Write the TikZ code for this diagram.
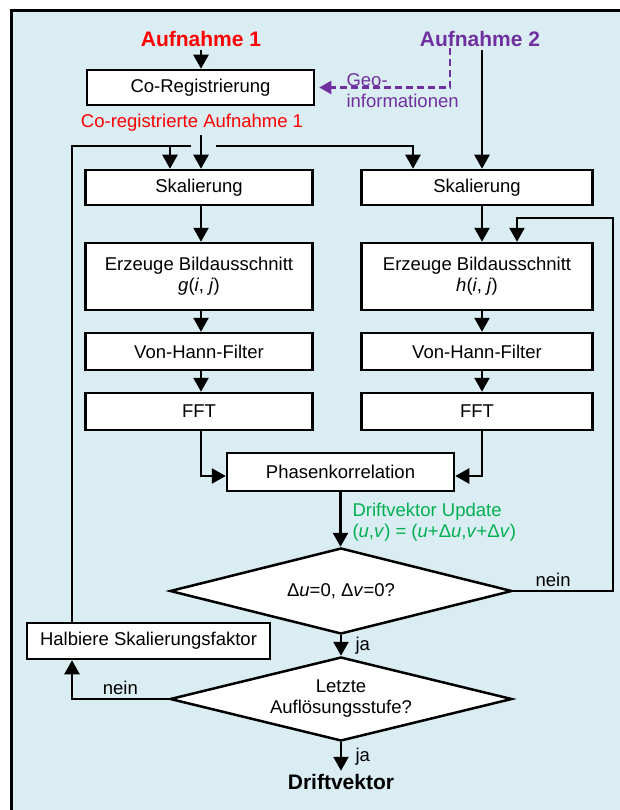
\documentclass[tikz,border=0pt]{standalone}
\usepackage{fontspec}
\setmainfont{Liberation Sans}
\usetikzlibrary{shapes.geometric,arrows.meta}
\definecolor{bg}{RGB}{218,237,243}
\definecolor{aufred}{RGB}{255,0,0}
\definecolor{aufpurple}{RGB}{112,48,160}
\definecolor{updgreen}{RGB}{0,176,80}

\begin{document}
\begin{tikzpicture}[x=1pt,y=-1pt,
	font=\fontsize{18.5}{21}\selectfont,
	title/.style={font=\fontsize{21}{24}\selectfont\bfseries},
	box/.style={draw,fill=white,line width=2.5pt,minimum width=227pt,inner sep=2pt,align=center},
	decision/.style={draw,fill=white,diamond,aspect=4,line width=2.5pt,minimum width=342pt,inner sep=0pt,align=center},
	conn/.style={line width=2.5pt},
	arr/.style={line width=2.5pt,-{Triangle[length=14pt,width=15pt]}},
	geoarr/.style={aufpurple,line width=2.2pt,dash pattern=on 7pt off 4pt,-{Triangle[length=12pt,width=13pt]},shorten >=4pt}]
	\useasboundingbox (0,0) rectangle (619,810);
	\fill[white] (-5,-5) rectangle (630,820);
	\fill[bg] (11,11) rectangle (630,820);
	\draw[line width=3pt] (11,820) -- (11,11) -- (630,11);
	\node[title,text=aufred] (auf_1) at (201,39) {Aufnahme 1};
	\node[title,text=aufpurple] (auf_2) at (480,39) {Aufnahme 2};
	\node[box,minimum height=35pt] (coreg) at (200.5,87.5) {Co-Registrierung};
	\node[text=aufred] (coreg_lbl) at (192,123) {Co-registrierte Aufnahme 1};
	\node[text=aufpurple,align=left,anchor=west] (geo_lbl) at (343,90.5) {Geo-\\informationen};
	\node[box,minimum height=35pt] (skal_l) at (199,187.5) {Skalierung};
	\node[box,minimum width=231pt,minimum height=35pt] (skal_r) at (477,187.5) {Skalierung};
	\node[box,minimum height=67pt] (erz_l) at (199,276.5) {Erzeuge Bildausschnitt\\\textit{g}(\textit{i}, \textit{j})};
	\node[box,minimum width=231pt,minimum height=67pt] (erz_r) at (477,276.5) {Erzeuge Bildausschnitt\\\textit{h}(\textit{i}, \textit{j})};
	\node[box,minimum height=37pt] (hann_l) at (199,351.5) {Von-Hann-Filter};
	\node[box,minimum width=231pt,minimum height=37pt] (hann_r) at (477,351.5) {Von-Hann-Filter};
	\node[box,minimum height=37pt] (fft_l) at (199,411.5) {FFT};
	\node[box,minimum width=231pt,minimum height=37pt] (fft_r) at (477,411.5) {FFT};
	\node[box,minimum height=38pt] (phasen) at (340.5,472) {Phasenkorrelation};
	\node[text=updgreen,align=left,anchor=west] (upd_lbl) at (349,522) {Driftvektor Update\\(\textit{u},\textit{v}) = (\textit{u}+Δ\textit{u},\textit{v}+Δ\textit{v})};
	\node[decision,minimum height=86pt] (dia_1) at (341,591) {Δ\textit{u}=0, Δ\textit{v}=0?};
	\node[box,minimum width=243pt,minimum height=36pt] (halb) at (148.5,641) {Halbiere Skalierungsfaktor};
	\node[decision,minimum height=84pt] (dia_2) at (341,699) {Letzte\\Auflösungsstufe?};
	\node[title] (drift) at (341,782) {Driftvektor};
	\coordinate (col_l) at (201,0);
	\coordinate (col_r) at (482,0);
	\coordinate (geo) at (450,48);
	\coordinate (cr) at (201,135);
	\coordinate (loop_l) at (72,146);
	\coordinate (jump_l) at (191,146);
	\coordinate (jump_r) at (216,146);
	\coordinate (drop_l) at (170,146);
	\coordinate (drop_r) at (413,146);
	\coordinate (loop_r) at (613,218);
	\coordinate (drop_e) at (517,218);
	\draw[arr] (auf_1) -- (auf_1 |- coreg.north);
	\draw[geoarr] (geo) |- (coreg.east);
	\draw[arr] (cr) -- (cr |- skal_l.north);
	\draw[arr] (auf_2.south -| col_r) -- (col_r |- skal_r.north);
	\draw[conn] (halb.north -| loop_l) |- (jump_l);
	\draw[arr] (drop_l) -- (drop_l |- skal_l.north);
	\draw[arr] (jump_r) -| (drop_r |- skal_r.north);
	\draw[arr] (skal_l.south -| col_l) -- (erz_l.north -| col_l);
	\draw[arr] (erz_l.south -| col_l) -- (hann_l.north -| col_l);
	\draw[arr] (hann_l.south -| col_l) -- (fft_l.north -| col_l);
	\draw[arr] (skal_r.south -| col_r) -- (erz_r.north -| col_r);
	\draw[arr] (erz_r.south -| col_r) -- (hann_r.north -| col_r);
	\draw[arr] (hann_r.south -| col_r) -- (fft_r.north -| col_r);
	\draw[arr] (fft_l.south -| col_l) |- ([yshift=-4pt]phasen.west);
	\draw[arr] (fft_r.south -| col_r) |- ([yshift=-4pt]phasen.east);
	\draw[arr] (phasen.south) -- (phasen.south |- dia_1.north);
	\draw[arr] (dia_1.east) -- node[above,pos=0.4] {nein} (dia_1.east -| loop_r) |- (drop_e) -- (drop_e |- erz_r.north);
	\draw[arr] (dia_1.south) -- node[right,xshift=10pt] {ja} (dia_2.north);
	\draw[arr] (dia_2.west) -- node[above] {nein} (dia_2.west -| loop_l) -- (halb.south -| loop_l);
	\draw[arr] (dia_2.south) -- node[right,xshift=10pt] {ja} (drift);
\end{tikzpicture}
\end{document}
